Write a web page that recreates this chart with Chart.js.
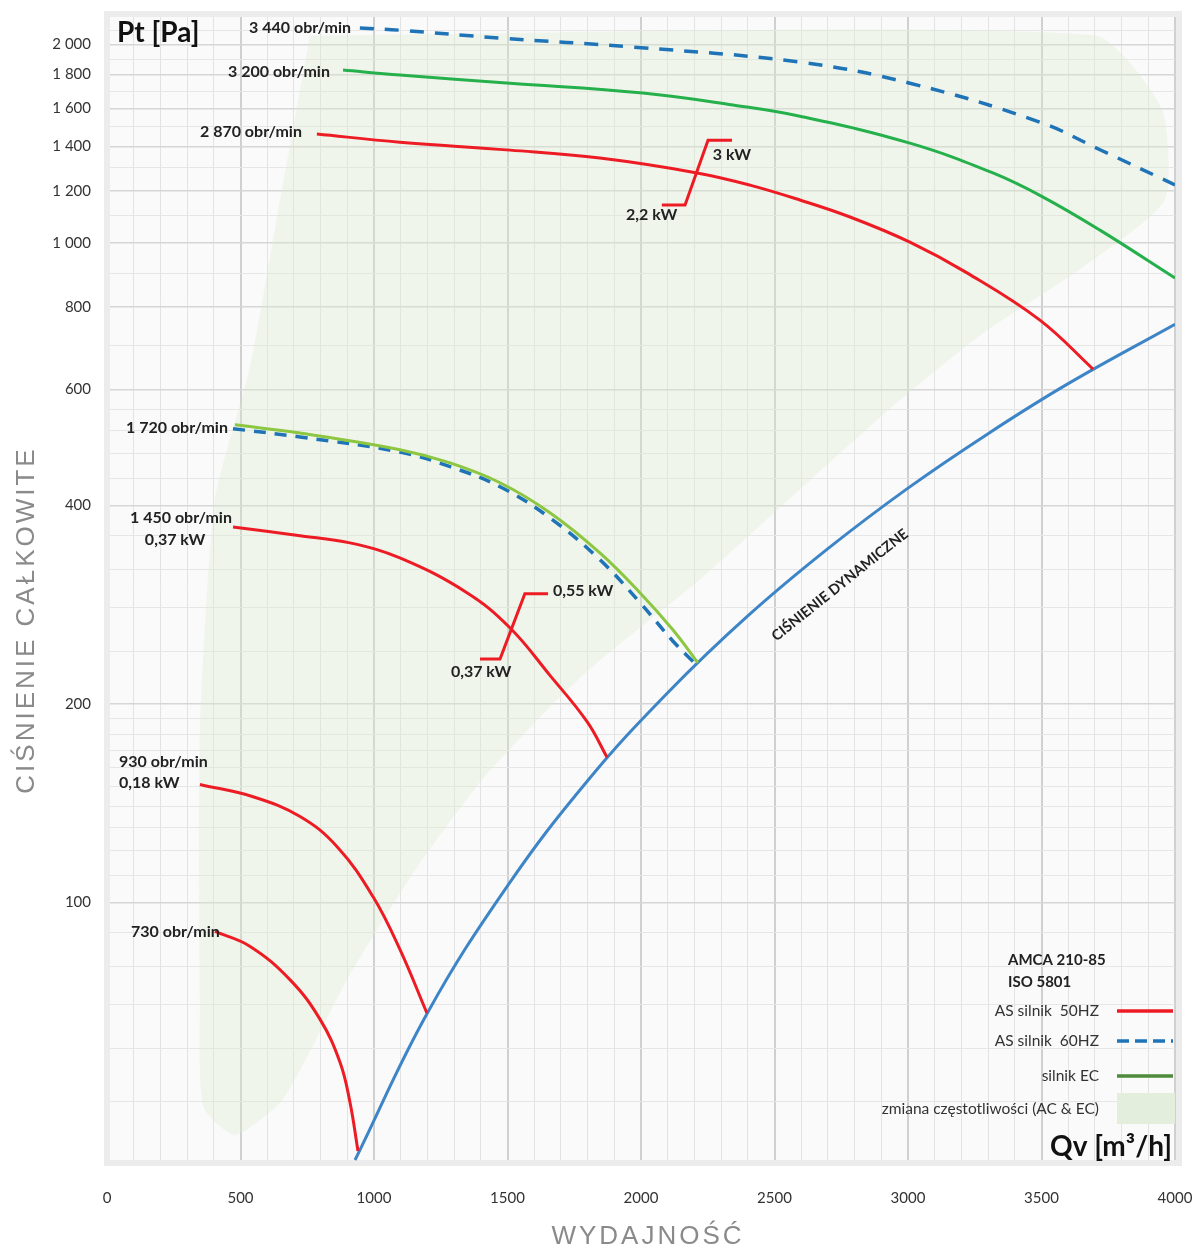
<!DOCTYPE html>
<html>
<head>
<meta charset="utf-8">
<script src="https://cdn.jsdelivr.net/npm/chart.js@4.4.1/dist/chart.umd.min.js"></script>
<style>
html, body { margin: 0; padding: 0; background: #fff; }
canvas { display: block; }
</style>
</head>
<body>
<canvas id="wykres" width="1199" height="1251"></canvas>
<script>
// Qv [m3/h] i Pt [Pa]
const q3440 = [947, 1097, 1472, 1970, 2595, 3007, 3494, 3719, 4000];
const p3440 = [2118, 2102, 2045, 1982, 1880, 1747, 1525, 1385, 1225];

const q3200 = [884, 1097, 1509, 2007, 2344, 2595, 3007, 3318, 3506, 3719, 4000];
const p3200 = [1829, 1797, 1747, 1688, 1619, 1557, 1417, 1277, 1174, 1046, 885];

const q2870 = [786, 1097, 1509, 1846, 2210, 2408, 2595, 2783, 3007, 3221, 3494, 3693];
const p2870 = [1463, 1422, 1383, 1345, 1277, 1224, 1162, 1095, 1003, 901, 764, 644];

const q1720ec = [479, 723, 1097, 1285, 1472, 1659, 1846, 1996, 2120, 2213];
const p1720ec = [530, 515, 486, 464, 433, 390, 339, 295, 259, 231];
const q1720hz = [472, 723, 1097, 1285, 1472, 1659, 1846, 1996, 2120, 2195];
const p1720hz = [523, 508, 482, 458, 427, 383, 331, 285, 249, 232];

const q1450 = [472, 723, 910, 1097, 1348, 1509, 1659, 1798, 1873];
const p1450 = [371, 360, 351, 333, 295, 261, 221, 188, 166];

const q930 = [348, 547, 723, 861, 996, 1097, 1198];
const p930 = [151, 144.7, 135, 121.6, 102.1, 84.9, 68];

const q730 = [404, 536, 685, 798, 873, 910, 940];
const p730 = [90.4, 85.8, 76.4, 66.5, 57.2, 49.8, 42];

// ciśnienie dynamiczne
const qDyn = [929, 1200, 1500, 1800, 2100, 2400, 2700, 3000, 3300, 3600, 4000];
const pDyn = [40.7, 68, 106, 153, 208, 272, 344, 425, 514, 612, 753];

// przejścia mocy silnika
const qKw3 = [2078, 2165, 2251, 2341];
const pKw3 = [1142, 1142, 1432, 1432];
const qKw055 = [1397, 1472, 1565, 1652];
const pKw055 = [234, 234, 294, 294];

// obszar zmiany częstotliwości (AC & EC)
const qObszar = [760, 3700, 3950, 3962, 3655, 3281, 2970, 2595, 2221, 1846, 1659, 1408, 1161, 910, 659, 479, 360, 348, 348, 404, 536, 648, 723, 760];
const pObszar = [2066, 2066, 1600, 1162, 919, 730, 578, 423, 309, 233, 198, 154, 113, 77.8, 50.3, 44.4, 49.1, 71.3, 181, 408, 649, 1162, 1705, 2066];

// osie
const yGlowne = [100, 200, 400, 600, 800, 1000, 1200, 1400, 1600, 1800, 2000];
const yPomocnicze = [40, 50, 60, 70, 80, 90, 110, 120, 130, 140, 150, 160, 170, 180, 190,
    240, 280, 320, 360, 440, 480, 520, 560, 700, 900, 1100, 1300, 1500, 1700, 1900, 2100];
const xGlowne = [0, 500, 1000, 1500, 2000, 2500, 3000, 3500, 4000];

// opisy krzywych
const opisy = [
    { t: '3 440 obr/min', q: 914, p: 2118, a: 'right' },
    { t: '3 200 obr/min', q: 835, p: 1816, a: 'right' },
    { t: '2 870 obr/min', q: 730, p: 1473, a: 'right' },
    { t: '1 720 obr/min', q: 453, p: 524, a: 'right' },
    { t: '1 450 obr/min', q: 277, p: 383, a: 'center' },
    { t: '0,37 kW', q: 255, p: 355, a: 'center' },
    { t: '930 obr/min', q: 45, p: 163.6, a: 'left' },
    { t: '0,18 kW', q: 45, p: 152, a: 'left' },
    { t: '730 obr/min', q: 90, p: 90.4, a: 'left' },
    { t: '3 kW', q: 2269, p: 1359, a: 'left' },
    { t: '2,2 kW', q: 1944, p: 1103, a: 'left' },
    { t: '0,55 kW', q: 1670, p: 297, a: 'left' },
    { t: '0,37 kW', q: 1288, p: 224, a: 'left' }
];

const CZERWONY = '#ed1c24';
const NIEBIESKI = '#1f73b7';
const ZIELONY = '#25b04b';
const ZIELONY_EC = '#8dc641';
const DYNAMICZNE = '#3d85c6';

const pts = (q, p) => q.map((x, i) => ({ x, y: p[i] }));

function linia(dane, kolor, extra) {
    return Object.assign({
        data: dane,
        borderColor: kolor,
        borderWidth: 3,
        pointRadius: 0,
        fill: false,
        tension: 0.4
    }, extra || {});
}

const fmt = v => v >= 1000 ? Math.floor(v / 1000) + ' ' + String(v % 1000).padStart(3, '0') : String(v);

const dekoracje = {
    id: 'dekoracje',
    beforeDraw(chart) {
        const { ctx, chartArea: ca } = chart;
        ctx.save();
        ctx.fillStyle = '#fff';
        ctx.fillRect(0, 0, chart.width, chart.height);
        ctx.fillStyle = '#fafafa';
        ctx.fillRect(ca.left, ca.top, ca.width, ca.height);
        ctx.restore();
    },
    beforeDatasetsDraw(chart) {
        const { ctx, chartArea: ca } = chart;
        ctx.save();
        ctx.strokeStyle = '#ececec';
        ctx.lineWidth = 6;
        ctx.strokeRect(ca.left, ca.top + 2, ca.width + 4, ca.height - 4);
        ctx.restore();
    },
    afterDraw(chart) {
        const { ctx, chartArea: ca, scales } = chart;
        const sx = scales.x, sy = scales.y;
        ctx.save();

        // opisy krzywych
        ctx.fillStyle = '#222';
        ctx.font = 'bold 16px Lato';
        ctx.textBaseline = 'middle';
        opisy.forEach(o => {
            ctx.textAlign = o.a;
            ctx.fillText(o.t, sx.getPixelForValue(o.q), sy.getPixelForValue(o.p));
        });

        // CIŚNIENIE DYNAMICZNE wzdłuż krzywej
        const x1 = sx.getPixelForValue(2400), y1 = sy.getPixelForValue(272);
        const x2 = sx.getPixelForValue(3000), y2 = sy.getPixelForValue(425);
        ctx.save();
        ctx.translate(sx.getPixelForValue(2745), sy.getPixelForValue(303));
        ctx.rotate(Math.atan2(y2 - y1, x2 - x1));
        ctx.textAlign = 'center';
        ctx.font = 'bold 14.5px Lato';
        ctx.fillText('CIŚNIENIE DYNAMICZNE', 0, 0);
        ctx.restore();

        // jednostki
        ctx.font = 'bold 28px Lato';
        ctx.fillStyle = '#111';
        ctx.textAlign = 'left';
        ctx.fillText('Pt [Pa]', ca.left + 10, ca.top + 21);
        ctx.textAlign = 'right';
        ctx.fillText('Qv [m³/h]', ca.right - 3, ca.bottom - 18);

        // tytuły osi
        ctx.fillStyle = '#8a8a8a';
        ctx.font = '26px "Liberation Sans"';
        ctx.letterSpacing = '3px';
        ctx.textAlign = 'center';
        ctx.fillText('WYDAJNOŚĆ', 648, 1237);
        ctx.save();
        ctx.translate(27, 620);
        ctx.rotate(-Math.PI / 2);
        ctx.fillText('CIŚNIENIE CAŁKOWITE', 0, 0);
        ctx.restore();
        ctx.letterSpacing = '0px';

        // legenda
        const lx = ca.right - 58, tx = ca.right - 76;
        ctx.fillStyle = '#222';
        ctx.font = 'bold 15px Lato';
        ctx.textAlign = 'left';
        ctx.fillText('AMCA 210-85', ca.right - 167, ca.bottom - 205);
        ctx.fillText('ISO 5801', ca.right - 167, ca.bottom - 183);
        const wpisy = [
            { t: 'AS silnik  50HZ', k: CZERWONY, d: [], y: -154 },
            { t: 'AS silnik  60HZ', k: NIEBIESKI, d: [12, 6], y: -124 },
            { t: 'silnik EC', k: '#4e8b3a', d: [], y: -89 }
        ];
        ctx.font = '15.5px Lato';
        ctx.textAlign = 'right';
        wpisy.forEach(w => {
            ctx.fillStyle = '#333';
            ctx.fillText(w.t, tx, ca.bottom + w.y);
            ctx.strokeStyle = w.k;
            ctx.lineWidth = 3.5;
            ctx.setLineDash(w.d);
            ctx.beginPath();
            ctx.moveTo(lx, ca.bottom + w.y);
            ctx.lineTo(ca.right - 2, ca.bottom + w.y);
            ctx.stroke();
        });
        ctx.setLineDash([]);
        ctx.fillStyle = '#333';
        ctx.fillText('zmiana częstotliwości (AC & EC)', tx, ca.bottom - 56);
        ctx.fillStyle = '#e4eedc';
        ctx.fillRect(lx, ca.bottom - 72, 58, 31);
        ctx.restore();
    }
};

new Chart(document.getElementById('wykres'), {
    type: 'line',
    data: {
        datasets: [
            linia(pts(q3440, p3440), NIEBIESKI, { borderDash: [14, 11], borderWidth: 3.5 }),
            linia(pts(q3200, p3200), ZIELONY),
            linia(pts(q2870, p2870), CZERWONY),
            linia(pts(q1720ec, p1720ec), ZIELONY_EC),
            linia(pts(q1720hz, p1720hz), NIEBIESKI, { borderDash: [12, 9], borderWidth: 3.5 }),
            linia(pts(q1450, p1450), CZERWONY),
            linia(pts(q930, p930), CZERWONY),
            linia(pts(q730, p730), CZERWONY),
            linia(pts(qDyn, pDyn), DYNAMICZNE),
            linia(pts(qKw3, pKw3), CZERWONY, { tension: 0 }),
            linia(pts(qKw055, pKw055), CZERWONY, { tension: 0 }),
            {
                data: pts(qObszar, pObszar),
                borderWidth: 0,
                borderColor: 'rgba(0,0,0,0)',
                backgroundColor: 'rgba(222,236,208,0.32)',
                pointRadius: 0,
                tension: 0.2,
                fill: 'shape',
                order: 100
            }
        ]
    },
    options: {
        responsive: false,
        animation: false,
        parsing: false,
        layout: { padding: { top: 12, right: 24, left: 0, bottom: 0 } },
        plugins: { legend: { display: false }, tooltip: { enabled: false } },
        scales: {
            x: {
                type: 'linear',
                min: 0,
                max: 4000,
                afterFit: s => { s.height = 86; s.paddingLeft = 0; s.paddingRight = 0; },
                afterBuildTicks: s => {
                    const t = [];
                    for (let v = 0; v <= 4000; v += 100) t.push({ value: v });
                    s.ticks = t;
                },
                ticks: {
                    autoSkip: false,
                    maxRotation: 0,
                    padding: 24,
                    color: '#333',
                    font: { family: 'Lato', size: 15 },
                    callback: v => xGlowne.includes(v) ? String(v) : ''
                },
                border: { display: false },
                grid: {
                    drawTicks: false,
                    color: c => xGlowne.includes(c.tick.value) ? '#d0d0d0' : '#e3e3e3',
                    lineWidth: c => xGlowne.includes(c.tick.value) ? 2 : 1
                }
            },
            y: {
                type: 'logarithmic',
                min: 40,
                max: 2240,
                afterFit: s => { s.width = 107; s.paddingTop = 0; s.paddingBottom = 0; },
                afterBuildTicks: s => {
                    s.ticks = yGlowne.concat(yPomocnicze).sort((a, b) => a - b).map(v => ({ value: v }));
                },
                ticks: {
                    autoSkip: false,
                    padding: 16,
                    color: '#333',
                    font: { family: 'Lato', size: 15 },
                    callback: v => yGlowne.includes(v) ? fmt(v) : ''
                },
                border: { display: false },
                grid: {
                    drawTicks: false,
                    color: c => yGlowne.includes(c.tick.value) ? '#d6d6d6' : '#e6e6e6',
                    lineWidth: c => yGlowne.includes(c.tick.value) ? 1.5 : 1
                }
            }
        }
    },
    plugins: [dekoracje]
});
</script>
</body>
</html>
